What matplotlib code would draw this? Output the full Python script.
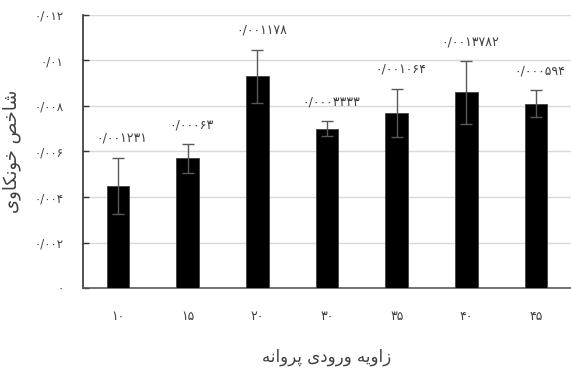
import numpy as np
import matplotlib.pyplot as plt

# Данные с графика
angles = ['۱۰', '۱۵', '۲۰', '۳۰', '۳۵', '۴۰', '۴۵']
values = [0.0045, 0.0057, 0.0093, 0.0070, 0.0077, 0.0086, 0.0081]
errors = [0.001231, 0.00063, 0.001178, 0.0003333, 0.001064, 0.0013782, 0.000594]
err_labels = ['۰/۰۰۱۲۳۱', '۰/۰۰۰۶۳', '۰/۰۰۱۱۷۸', '۰/۰۰۰۳۳۳۳',
              '۰/۰۰۱۰۶۴', '۰/۰۰۱۳۷۸۲', '۰/۰۰۰۵۹۴']
y_ticks = [0, 0.002, 0.004, 0.006, 0.008, 0.010, 0.012]
y_tick_labels = ['۰', '۰/۰۰۲', '۰/۰۰۴', '۰/۰۰۶', '۰/۰۰۸', '۰/۰۱', '۰/۰۱۲']

# matplotlib не умеет соединять арабские буквы, поэтому берем готовые формы
# и переворачиваем строку (справа налево)
# زاویه ورودی پروانه
x_title = '\uFEAF\uFE8D\uFEED\uFBFE\uFEEA \uFEED\uFEAD\uFEED\uFEA9\uFBFC \uFB58\uFEAE\uFEED\uFE8D\uFEE7\uFEEA'[::-1]
# شاخص خونکاوی
y_title = '\uFEB7\uFE8E\uFEA7\uFEBA \uFEA7\uFEEE\uFEE7\uFB91\uFE8E\uFEED\uFBFC'[::-1]

text_color = '#404040'

fig = plt.figure(figsize=(5.71, 3.7), dpi=100)
ax = fig.add_axes([0.1454, 0.2216, 0.8546, 0.7379])

x = np.arange(len(angles))
ax.bar(x, values, width=0.325, color='black', edgecolor='#404040', linewidth=0.6, zorder=3)
ax.errorbar(x, values, yerr=errors, fmt='none', ecolor='#595959', elinewidth=1.0,
            capsize=4, capthick=1.0, zorder=4)

for i in range(len(angles)):
    ax.annotate(err_labels[i], (x[i], values[i] + errors[i]), xytext=(3, 14),
                textcoords='offset points', ha='center', va='center',
                fontsize=9, color=text_color)

ax.set_xlim(-0.5, len(angles) - 0.5)
ax.set_ylim(0, 0.012)
ax.set_yticks(y_ticks)
ax.set_yticklabels(y_tick_labels, fontsize=8.5, color=text_color)
ax.set_xticks(x)
ax.set_xticklabels(angles, fontsize=9, color=text_color)

ax.tick_params(axis='y', direction='in', length=4, width=1, color='#333333', pad=14)
ax.tick_params(axis='x', length=0, pad=16)
ax.grid(axis='y', color='#d9d9d9', linewidth=1, zorder=0)

for s in ['top', 'right']:
    ax.spines[s].set_visible(False)
ax.spines['left'].set_color('#333333')
ax.spines['left'].set_linewidth(1.2)
ax.spines['bottom'].set_color('#595959')
ax.spines['bottom'].set_linewidth(1.2)

ax.set_xlabel(x_title, fontsize=12, color=text_color, labelpad=18)
ax.set_ylabel(y_title, fontsize=13, color=text_color, labelpad=10)

fig.savefig('out.png', dpi=100)
